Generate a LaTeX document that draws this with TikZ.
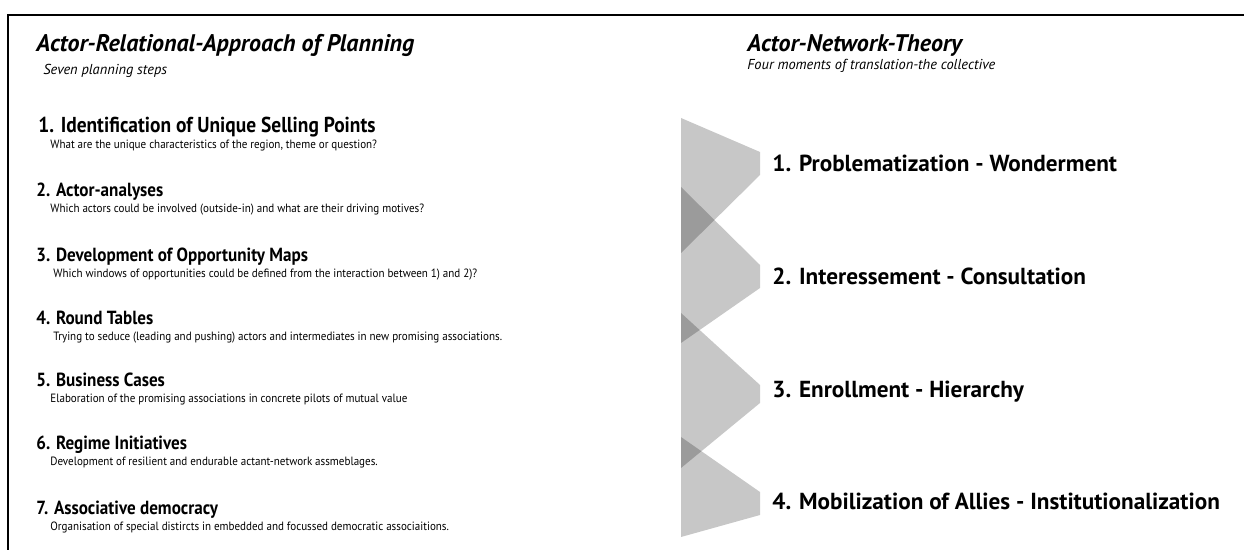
\documentclass[tikz,border=0pt]{standalone}
\usepackage{fontspec}
\setmainfont{PT Sans}
\newfontfamily\condfont[FakeStretch=0.9]{PT Sans}
\newfontfamily\narrowfont[FakeStretch=0.92]{PT Sans}
\usetikzlibrary{positioning}

\tikzset{
  txt/.style={anchor=base west,inner sep=0pt},
  title/.style={txt,font=\fontsize{12}{14}\selectfont\bfseries\itshape},
  subtitle/.style={txt,font=\fontsize{7.2}{8}\selectfont\itshape},
  step head/.style={txt,font=\condfont\fontsize{9.5}{12}\selectfont\bfseries},
  first head/.style={txt,font=\condfont\fontsize{10.8}{12}\selectfont\bfseries},
  step text/.style={txt,font=\narrowfont\fontsize{6}{8}\selectfont},
  moment/.style={txt,font=\fontsize{11.6}{13}\selectfont\bfseries},
  wedge/.style={fill=black,fill opacity=0.22}
}

\begin{document}
\begin{tikzpicture}[x=0.5pt,y=-0.5pt]
  \useasboundingbox (0,0) rectangle (1244,550);
  \pgfmathsetmacro\lx{36}     % left column
  \pgfmathsetmacro\sx{50}     % indent of the explanations
  \pgfmathsetmacro\rx{772}    % right column
  \pgfmathsetmacro\dsub{16}   % head to explanation

% frame (open at right and bottom)
  \draw[line width=1.3pt] (8,550) -- (8,15) -- (1244,15);

% titles
  \node[title] (arap) at (\lx,52) {Actor-Relational-Approach of Planning};
  \node[subtitle] (arapsub) at (43,75) {Seven planning steps};
  \node[title] (ant) at (747,52) {Actor-Network-Theory};
  \node[subtitle] (antsub) at (747,70) {Four moments of translation-the collective};

% seven planning steps
  \node[first head] (s1) at (\lx+2,133) {1. Identification of Unique Selling Points};
  \node[step text] (t1) at (\sx,133+\dsub) {What are the unique characteristics of the region, theme or question?};
  \node[step head] (s2) at (\lx,197) {2. Actor-analyses};
  \node[step text] (t2) at (\sx,197+\dsub) {Which actors could be involved (outside-in) and what are their driving motives?};
  \node[step head] (s3) at (\lx,262) {3. Development of Opportunity Maps};
  \node[step text] (t3) at (\sx+3,262+\dsub) {Which windows of opportunities could be defined from the interaction between 1) and 2)?};
  \node[step head] (s4) at (\lx,325) {4. Round Tables};
  \node[step text] (t4) at (\sx+3,325+\dsub) {Trying to seduce (leading and pushing) actors and intermediates in new promising associations.};
  \node[step head] (s5) at (\lx,387) {5. Business Cases};
  \node[step text] (t5) at (\sx,387+\dsub) {Elaboration of the promising associations in concrete pilots of mutual value};
  \node[step head] (s6) at (\lx,450) {6. Regime Initiatives};
  \node[step text] (t6) at (\sx,450+\dsub) {Development of resilient and endurable actant-network assmeblages.};
  \node[step head] (s7) at (\lx,515) {7. Associative democracy};
  \node[step text] (t7) at (\sx,515+\dsub) {Organisation of special distircts in embedded and focussed democratic associaitions.};

% translation wedges
  \fill[wedge] (681,118) -- (760,152) -- (760,175) -- (681,253) -- cycle;
  \fill[wedge] (681,187) -- (760,265) -- (760,288) -- (681,343) -- cycle;
  \fill[wedge] (681,313) -- (760,385) -- (760,403) -- (681,468) -- cycle;
  \fill[wedge] (681,437) -- (760,492) -- (760,515) -- (681,537) -- cycle;

% four moments
  \node[moment] (m1) at (\rx,172) {1. Problematization - Wonderment};
  \node[moment] (m2) at (\rx,285) {2. Interessement - Consultation};
  \node[moment] (m3) at (\rx,398) {3. Enrollment - Hierarchy};
  \node[moment] (m4) at (\rx,510) {4. Mobilization of Allies - Institutionalization};
\end{tikzpicture}
\end{document}
